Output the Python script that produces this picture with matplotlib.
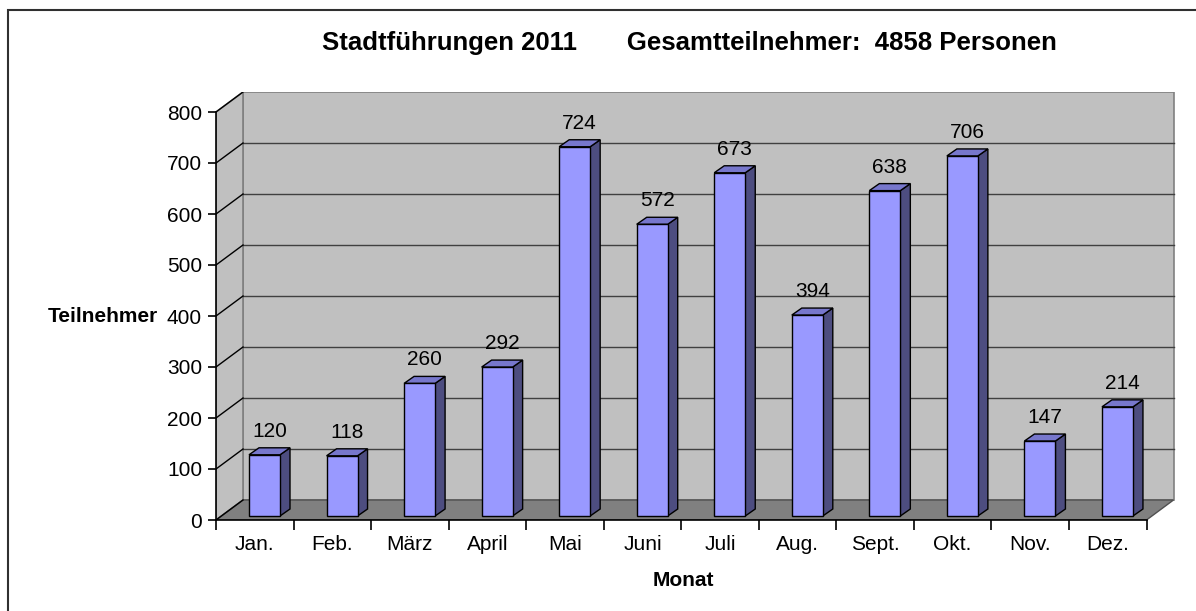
import matplotlib
matplotlib.use("Agg")
import matplotlib.pyplot as plt
from matplotlib.patches import Polygon, Rectangle

months = ["Jan.", "Feb.", "März", "April", "Mai", "Juni", "Juli", "Aug.", "Sept.", "Okt.", "Nov.", "Dez."]
participants = [120, 118, 260, 292, 724, 572, 673, 394, 638, 706, 147, 214]
yticks = [0, 100, 200, 300, 400, 500, 600, 700, 800]
title = "Stadtführungen 2011       Gesamtteilnehmer:  4858 Personen"
xlabel = "Monat"
ylabel = "Teilnehmer"

FONT = "Liberation Sans"
W, H = 1196, 611
fig = plt.figure(figsize=(W / 100, H / 100), dpi=100)
fig.patch.set_facecolor("white")

# axes geometry in pixels
px_left, px_right, px_bottom, px_top = 216, 1176, 520, 92
ax = fig.add_axes([px_left / W, 1 - px_bottom / H, (px_right - px_left) / W, (px_bottom - px_top) / H])
n = len(months)
px_per_cat = (1146.5 - 216) / n
px_per_val = (520 - 112) / 800.0
xmax = (px_right - px_left) / px_per_cat
ymax = (px_bottom - px_top) / px_per_val
ax.set_xlim(0, xmax)
ax.set_ylim(0, ymax)
ax.patch.set_alpha(0)
for s in ax.spines.values():
    s.set_visible(False)

DX = 27 / px_per_cat
DY = 20 / px_per_val
vmax = yticks[-1]

wall_c = "#C0C0C0"
edge_c = "#808080"
floor_c = "#808080"

# back wall
ax.add_patch(Rectangle((DX, DY), n, vmax, facecolor=wall_c, edgecolor=edge_c, lw=1.2, zorder=1))
# left wall
ax.add_patch(Polygon([(0, 0), (0, vmax), (DX, vmax + DY), (DX, DY)], closed=True,
                     facecolor=wall_c, edgecolor=edge_c, lw=1.2, zorder=1))
# floor
ax.add_patch(Polygon([(0, 0), (n, 0), (n + DX, DY), (DX, DY)], closed=True,
                     facecolor=floor_c, edgecolor="#505050", lw=1.0, zorder=2))
# gridlines
for v in yticks[1:-1]:
    ax.plot([DX, n + DX], [v + DY, v + DY], color="#404040", lw=1.0, zorder=2)
for v in yticks:
    ax.plot([0, DX], [v, v + DY], color="black", lw=1.0, zorder=2)

# bars
bar_off = (249 - 216) / px_per_cat
bar_w = 31 / px_per_cat
base = 4 / px_per_val
ddx = 10 / px_per_cat
ddy = 7 / px_per_val
front_c = "#9999FF"
top_c = "#7777CC"
side_c = "#4D4D80"
for i, v in enumerate(participants):
    x0 = i + bar_off
    b = base
    t = base + v
    ax.add_patch(Polygon([(x0 + bar_w, b), (x0 + bar_w + ddx, b + ddy), (x0 + bar_w + ddx, t + ddy), (x0 + bar_w, t)],
                         closed=True, facecolor=side_c, edgecolor="black", lw=1.0, zorder=4))
    ax.add_patch(Polygon([(x0, t), (x0 + bar_w, t), (x0 + bar_w + ddx, t + ddy), (x0 + ddx, t + ddy)],
                         closed=True, facecolor=top_c, edgecolor="black", lw=1.0, zorder=4))
    ax.add_patch(Rectangle((x0, b), bar_w, v, facecolor=front_c, edgecolor="black", lw=1.0, zorder=5))
    ax.text(x0 + bar_w / 2 + ddx / 2, t + ddy + 11 / px_per_val, str(v), ha="center", va="baseline",
            fontsize=15, family=FONT, zorder=6)

# axis lines
ax.plot([0, 0], [0, vmax], color="black", lw=1.2, zorder=6, clip_on=False)
ax.plot([0, n], [0, 0], color="black", lw=1.2, zorder=6, clip_on=False)

# ticks
ax.set_yticks(yticks)
ax.set_yticklabels([str(v) for v in yticks], fontsize=15, family=FONT)
ax.tick_params(axis="y", direction="out", length=6, width=1.2, pad=4, color="black")
ax.set_xticks(range(n + 1))
ax.set_xticklabels([""] * (n + 1))
ax.tick_params(axis="x", direction="out", length=7, width=1.2, color="black")
ax.set_xticks([i + 0.5 for i in range(n)], minor=True)
ax.set_xticklabels(months, minor=True, fontsize=15, family=FONT)
ax.tick_params(axis="x", which="minor", length=0, pad=11)

ax.set_xlabel(xlabel, fontsize=15, fontweight="bold", family=FONT)
ax.xaxis.set_label_coords((683 - px_left) / (px_right - px_left), -(571 - px_bottom) / (px_bottom - px_top))
ax.set_ylabel(ylabel, fontsize=15, fontweight="bold", family=FONT, rotation=0, ha="right", va="center")
ax.yaxis.set_label_coords((158 - px_left) / (px_right - px_left), (520 - 316) / (px_bottom - px_top))

fig.text(689 / W, 1 - 50 / H, title, ha="center", va="baseline", fontsize=18.5, fontweight="bold", family=FONT)

# chart border
fig.add_artist(Rectangle((8 / W, -0.1), 1.2, (1 - 10 / H) + 0.1, transform=fig.transFigure,
                         facecolor="none", edgecolor="#303030", lw=1.5))

fig.savefig("out.png", dpi=100)
